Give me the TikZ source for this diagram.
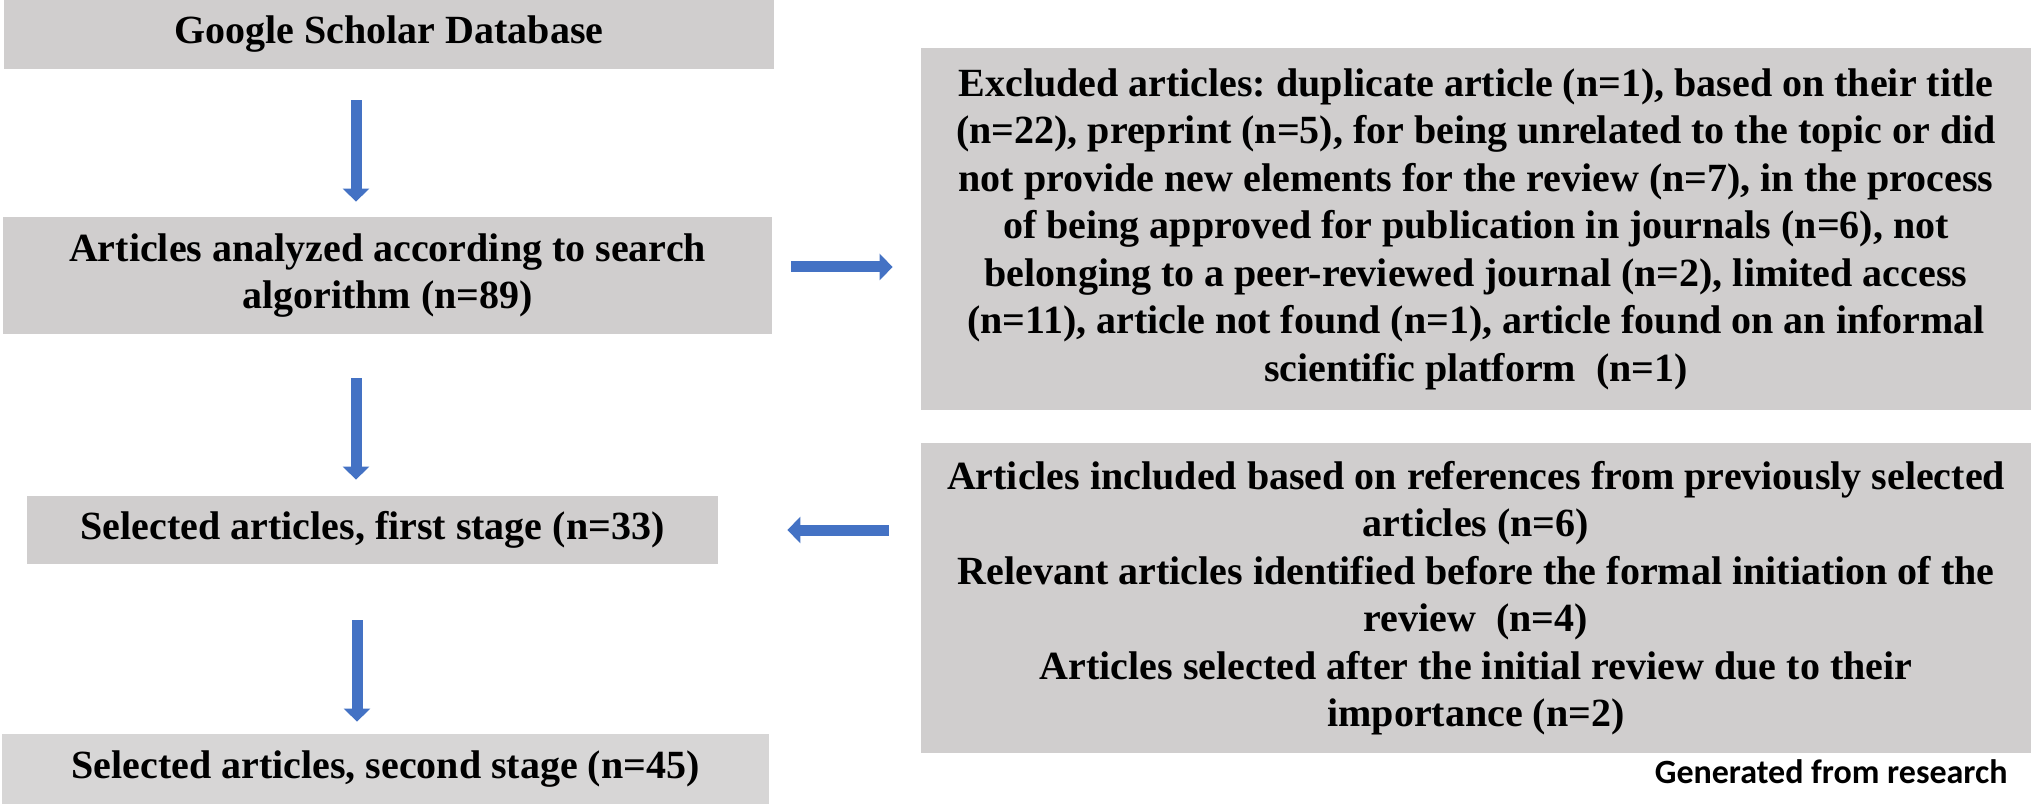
\documentclass[tikz,border=0pt]{standalone}
\usepackage{fontspec}
\setmainfont{Liberation Serif}
\newfontfamily\calfont{Carlito}
\usetikzlibrary{arrows.meta}
\frenchspacing
\definecolor{boxgray}{HTML}{D0CECE}
\definecolor{boxgraylight}{HTML}{D7D6D6}
\definecolor{arrblue}{HTML}{4472C4}
\tikzset{
  box/.style={fill=boxgray, draw=none, inner sep=0pt, align=center,
    font=\fontsize{20}{23.75}\selectfont\bfseries},
  arr/.style={draw=arrblue, line width=5.5pt,
    -{Triangle[width=13pt,length=6.5pt]}},
  note/.style={font=\calfont\fontsize{17}{20}\selectfont\bfseries, inner sep=0pt}
}
\begin{document}
\begin{tikzpicture}[x=0.5pt,y=-0.5pt]
\useasboundingbox (0,0) rectangle (2032,806);
\fill[white] (0,0) rectangle (2032,806);

\node[box, minimum width=385pt, minimum height=34.5pt] (b1) at (389,34.5)
  {Google Scholar Database};
\node[box, minimum width=384.5pt, minimum height=58.5pt] (b2) at (387.5,275.5)
  {Articles analyzed according to search\\algorithm (n=89)};
\node[box, minimum width=345.5pt, minimum height=34pt] (b4) at (372.5,530)
  {Selected articles, first stage (n=33)};
\node[box, fill=boxgraylight, minimum width=383.5pt, minimum height=35pt] (b6) at (385.5,769)
  {Selected articles, second stage (n=45)};

\node[box, minimum width=555pt, minimum height=181pt] (r1) at (1476,229)
  {Excluded articles: duplicate article (n=1), based on their title\\
   (n=22), preprint (n=5), for being unrelated to the topic or did\\
   not provide new elements for the review (n=7), in the process\\
   of being approved for publication in journals (n=6), not\\
   belonging to a peer-reviewed journal (n=2), limited access\\
   (n=11), article not found (n=1), article found on an informal\\
   scientific platform\ \ (n=1)};
\node[box, minimum width=555pt, minimum height=155pt] (r2) at (1476,598)
  {Articles included based on references from previously selected\\
   articles (n=6)\\
   Relevant articles identified before the formal initiation of the\\
   review\ \ (n=4)\\
   Articles selected after the initial review due to their\\
   importance (n=2)};

\node[note, anchor=base east] (src) at (2008,783) {Generated from research};

\draw[arr] ([shift={(-33,31)}]b1.south) -- ([shift={(-31.5,-15)}]b2.north);
\draw[arr] ([shift={(-31.5,44)}]b2.south) -- ([shift={(-16.5,-16)}]b4.north);
\draw[arr] ([shift={(-15.5,56)}]b4.south) -- ([shift={(-28.5,-12)}]b6.north);
\draw[arr] ([shift={(19,-8.5)}]b2.east) -- ([shift={(-28,38)}]r1.west);
\draw[arr] ([shift={(-32,-68)}]r2.west) -- ([shift={(69,0)}]b4.east);
\end{tikzpicture}
\end{document}
